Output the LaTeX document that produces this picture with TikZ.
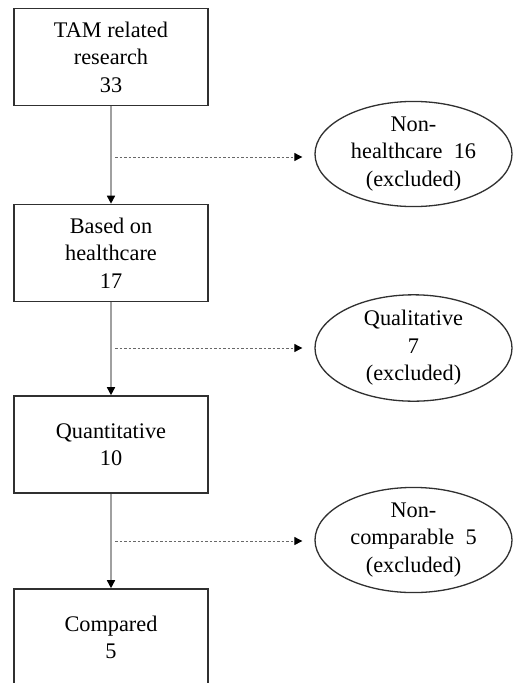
\documentclass[tikz,border=0pt]{standalone}
\usepackage{fontspec}
\setmainfont{Liberation Serif}
\usetikzlibrary{arrows.meta,shapes.geometric}
\definecolor{boxline}{HTML}{303030}
\definecolor{flowline}{HTML}{A0A0A0}
\definecolor{skipline}{HTML}{686868}
\begin{document}
\begin{tikzpicture}[x=1pt,y=-1pt,
  every node/.style={font=\fontsize{22.3}{27.5}\selectfont, align=center},
  stagebox/.style={draw=boxline, line width=1.6pt, rectangle,
    minimum width=194pt, minimum height=97pt, inner sep=0pt},
  dropbox/.style={draw=boxline, line width=1.3pt, ellipse,
    minimum width=197pt, inner sep=0pt},
  flow/.style={draw=flowline, line width=1.5pt,
    -{Triangle[width=8pt,length=8pt,color=black]}},
  skip/.style={draw=skipline, line width=0.9pt, dash pattern=on 2.5pt off 2pt,
    -{Triangle[width=8pt,length=8pt,color=black]}, shorten >=12pt}]
  \clip (0,0) rectangle (514,683);
  \fill[white] (0,0) rectangle (514,683);

  % main stages
  \node[stagebox] (b1) at (111,57)    {TAM related\\research\\33};
  \node[stagebox] (b2) at (111,253)   {Based on\\healthcare\\17};
  \node[stagebox] (b3) at (111,444.5) {Quantitative\\10};
  \node[stagebox] (b4) at (111,637.5) {Compared\\5};

  % excluded studies
  \node[dropbox, minimum height=93pt] (e1) at (413.5,154)
    {Non-\\healthcare\enspace 16\\(excluded)};
  \node[dropbox, minimum height=96pt] (e2) at (413.5,348)
    {Qualitative\\7\\(excluded)};
  \node[dropbox, minimum height=95pt] (e3) at (413.5,540)
    {Non-\\comparable\enspace 5\\(excluded)};

  % branch points on the main flow
  \coordinate (d1) at (115,157);
  \coordinate (d2) at (115,348);
  \coordinate (d3) at (115,541);

  \draw[flow] (b1) -- (b2);
  \draw[flow] (b2) -- (b3);
  \draw[flow] (b3) -- (b4);

  \draw[skip] (d1) -- (d1 -| e1.west);
  \draw[skip] (d2) -- (d2 -| e2.west);
  \draw[skip] (d3) -- (d3 -| e3.west);
\end{tikzpicture}
\end{document}
